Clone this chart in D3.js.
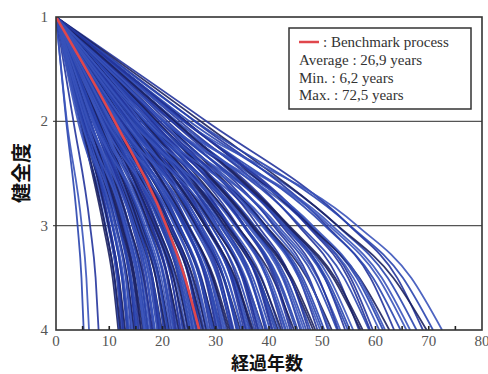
<!DOCTYPE html>
<html>
<head>
<meta charset="utf-8">
<script src="https://cdn.jsdelivr.net/npm/d3@7"></script>
<style>
  html, body { margin: 0; padding: 0; background: #fff; }
  svg { display: block; }
</style>
</head>
<body>
<svg id="chart" width="488" height="374"></svg>
<script>
// grades on the y axis and the knots every curve passes through
const GRADES = [1, 2, 3, 3.5, 4];
const Y_TICKS = [1, 2, 3, 4];
const GRID_GRADES = [2, 3];
const X_TICKS = [0, 10, 20, 30, 40, 50, 60, 70, 80];
const MINOR_TICKS = [5, 10, 15, 20, 25, 30, 35, 40, 45, 50, 55, 60, 65, 70, 75];

// years until grade 4 is reached, one per simulated process
const lifeYears = [
  5.2, 6.2, 8.0,
  11.7, 11.9, 12.3, 12.5, 12.8, 13.0, 13.3, 13.6, 13.8, 14.1, 14.5, 14.7, 15.0, 15.4, 15.6,
  15.9, 16.3, 16.5, 16.8, 17.2, 17.4, 17.7, 18.1, 18.3, 18.6, 19.0, 19.2, 19.5, 19.9,
  20.2, 20.4, 20.8, 21.1, 21.3, 21.7, 22.0, 22.2, 22.6, 22.9, 23.1, 23.5, 23.8, 24.0, 24.4,
  24.7, 24.9, 25.3, 25.6, 25.8, 26.2, 26.5, 26.8, 27.2, 27.4, 27.8, 28.1, 28.3, 28.7, 29.0,
  29.3, 29.7, 29.9,
  30.3, 30.6, 31.0, 31.2, 31.7, 32.0, 32.3, 32.8, 33.0, 33.4, 33.9, 34.1, 34.6, 34.9, 35.3,
  35.8, 36.0, 36.5, 36.8, 37.3, 37.6, 38.1, 38.4, 38.9, 39.3, 39.7,
  40.2, 40.7, 41.1, 41.7, 42.0, 42.6, 43.2, 43.6, 44.3, 44.7, 45.4, 45.9, 46.6, 47.0, 47.8,
  48.3, 49.1, 49.6,
  50.4, 51.1, 51.8, 52.8, 53.4, 54.3, 55.2, 55.8, 56.9, 57.6, 58.8, 59.5, 60.7, 61.4, 62.6,
  63.5, 64.7, 65.8, 66.5, 67.7, 68.9, 69.6, 70.8, 72.5,
  12.1, 12.6, 13.5, 14.3, 14.9, 15.2, 16.0, 16.6, 17.0, 17.9, 18.5, 19.3, 19.7, 20.6, 21.0,
  21.5, 22.4, 23.3, 24.2, 25.1, 25.9, 26.4, 27.0, 27.6, 28.5, 29.5, 30.1, 30.8, 31.5, 32.6,
  33.2, 34.3, 35.0, 35.6, 36.3, 37.0, 37.9, 38.7, 39.5, 40.5, 41.4, 42.3, 43.0, 44.0, 45.1,
  46.2, 47.4, 48.7, 50.0, 51.4, 53.0, 54.8, 57.2, 59.0, 61.8
];

// which shape each process follows (index into PROFILES)
const curveProfile = [
  0, 2, 1, 3, 0, 1, 2, 0, 3, 1, 0, 2, 1, 0, 3, 2, 0, 1, 1, 3, 0, 2, 1, 0, 2, 3, 1, 0, 0, 2,
  1, 3, 1, 0, 2, 0, 3, 1, 2, 0, 1, 0, 3, 2, 1, 0, 2, 1, 3, 0, 0, 1, 2, 3, 1, 0, 2, 0, 1, 3,
  2, 1, 0, 0, 3, 1, 2, 0, 1, 2, 0, 3, 1, 0, 2, 1, 0, 3, 2, 1, 0, 2, 1, 3, 0, 1, 0, 2, 3, 1,
  2, 0, 1, 0, 3, 2, 1, 0, 2, 1, 3, 0, 1, 2, 0, 0, 3, 1, 2, 0, 1, 3, 0, 2, 1, 0, 2, 1, 3, 0,
  1, 2, 0, 3, 1, 0, 2, 2, 0, 1, 3, 0, 2,
  3, 1, 0, 2, 1, 0, 3, 2, 0, 1, 2, 1, 0, 3, 0, 2, 1, 1, 3, 0, 2, 0, 1, 3, 2, 0, 1, 0, 2, 3,
  1, 0, 2, 1, 0, 3, 1, 2, 0, 1, 0, 3, 2, 1, 0, 2, 1, 3, 0, 2, 1, 0, 3, 1, 2
];

// share of the life spent when each grade in GRADES is reached
const PROFILES = [
  [0, 0.37, 0.78, 0.92, 1],
  [0, 0.41, 0.80, 0.93, 1],
  [0, 0.33, 0.78, 0.92, 1],
  [0, 0.39, 0.76, 0.91, 1]
];
const PROFILE_COLORS = ['#2944ae', '#23349c', '#3a53ba', '#1c2160'];

const benchmarkLife = 26.9;
const benchmarkShares = [0, 0.41, 0.77, 0.90, 1];

const legendTitle = ': Benchmark process';
const legendLines = ['Average : 26,9 years', 'Min. : 6,2 years', 'Max. : 72,5 years'];

const svg = d3.select('#chart');
const x = d3.scaleLinear().domain([0, 80]).range([56, 482]);
const y = d3.scaleLinear().domain([1, 4]).range([17, 330]);

const serif = "'Liberation Serif', 'Times New Roman', serif";
const cjk = "'Noto Sans CJK JP', 'Noto Sans CJK SC', sans-serif";

svg.append('defs').append('clipPath').attr('id', 'plot')
  .append('rect')
  .attr('x', x(0)).attr('y', y(1))
  .attr('width', x(80) - x(0)).attr('height', y(4) - y(1));

// gridlines at grade 2 and 3
svg.append('g').selectAll('line')
  .data(GRID_GRADES)
  .join('line')
  .attr('x1', x(0) - 3).attr('x2', x(80))
  .attr('y1', d => y(d)).attr('y2', d => y(d))
  .attr('stroke', '#555').attr('stroke-width', 1.3);

const line = d3.line()
  .x(p => x(p[0]))
  .y(p => y(p[1]))
  .curve(d3.curveMonotoneX);

function knots(life, shares) {
  return GRADES.map((g, i) => [life * shares[i], g]);
}

const curves = svg.append('g').attr('clip-path', 'url(#plot)');

curves.selectAll('path.proc')
  .data(lifeYears.map((T, i) => ({ T, p: curveProfile[i % curveProfile.length] })))
  .join('path')
  .attr('class', 'proc')
  .attr('d', d => line(knots(d.T, PROFILES[d.p])))
  .attr('fill', 'none')
  .attr('stroke', d => PROFILE_COLORS[d.p])
  .attr('stroke-width', 1.8)
  .attr('stroke-opacity', 0.9);

curves.append('path')
  .attr('d', line(knots(benchmarkLife, benchmarkShares)))
  .attr('fill', 'none')
  .attr('stroke', '#e0474c')
  .attr('stroke-width', 2.6);

// small inward ticks on the bottom axis
svg.append('g').selectAll('line')
  .data(MINOR_TICKS)
  .join('line')
  .attr('x1', d => x(d)).attr('x2', d => x(d))
  .attr('y1', y(4)).attr('y2', y(4) - 4)
  .attr('stroke', '#222').attr('stroke-width', 1.6);

// frame
svg.append('rect')
  .attr('x', x(0)).attr('y', y(1))
  .attr('width', x(80) - x(0)).attr('height', y(4) - y(1))
  .attr('fill', 'none').attr('stroke', '#333').attr('stroke-width', 1.6);

// tick labels
svg.append('g').selectAll('text')
  .data(Y_TICKS)
  .join('text')
  .attr('x', 48).attr('y', d => y(d) + 5)
  .attr('text-anchor', 'end')
  .attr('font-family', serif).attr('font-size', 15)
  .attr('fill', '#555')
  .text(d => d);

svg.append('g').selectAll('text')
  .data(X_TICKS)
  .join('text')
  .attr('x', d => x(d)).attr('y', 346)
  .attr('text-anchor', 'middle')
  .attr('font-family', serif).attr('font-size', 15)
  .attr('fill', '#555')
  .text(d => d);

// axis titles
svg.append('text')
  .attr('transform', 'translate(29,173) rotate(-90)')
  .attr('text-anchor', 'middle')
  .attr('font-family', cjk).attr('font-weight', 'bold').attr('font-size', 20)
  .attr('fill', '#111')
  .text('健全度');

svg.append('text')
  .attr('x', 267).attr('y', 370)
  .attr('text-anchor', 'middle')
  .attr('font-family', cjk).attr('font-weight', 'bold').attr('font-size', 18)
  .attr('fill', '#111')
  .text('経過年数');

// legend box
const lg = svg.append('g');
lg.append('rect')
  .attr('x', 289).attr('y', 28).attr('width', 182).attr('height', 81)
  .attr('fill', '#fff').attr('stroke', '#333').attr('stroke-width', 1.5);
lg.append('line')
  .attr('x1', 299).attr('x2', 319).attr('y1', 42).attr('y2', 42)
  .attr('stroke', '#e0474c').attr('stroke-width', 2.5);
lg.append('text')
  .attr('x', 323).attr('y', 47)
  .attr('font-family', serif).attr('font-size', 15).attr('fill', '#333')
  .text(legendTitle);
lg.selectAll('text.info')
  .data(legendLines)
  .join('text')
  .attr('class', 'info')
  .attr('x', 299).attr('y', (d, i) => 65 + i * 17.5)
  .attr('font-family', serif).attr('font-size', 15).attr('fill', '#333')
  .text(d => d);
</script>
</body>
</html>
